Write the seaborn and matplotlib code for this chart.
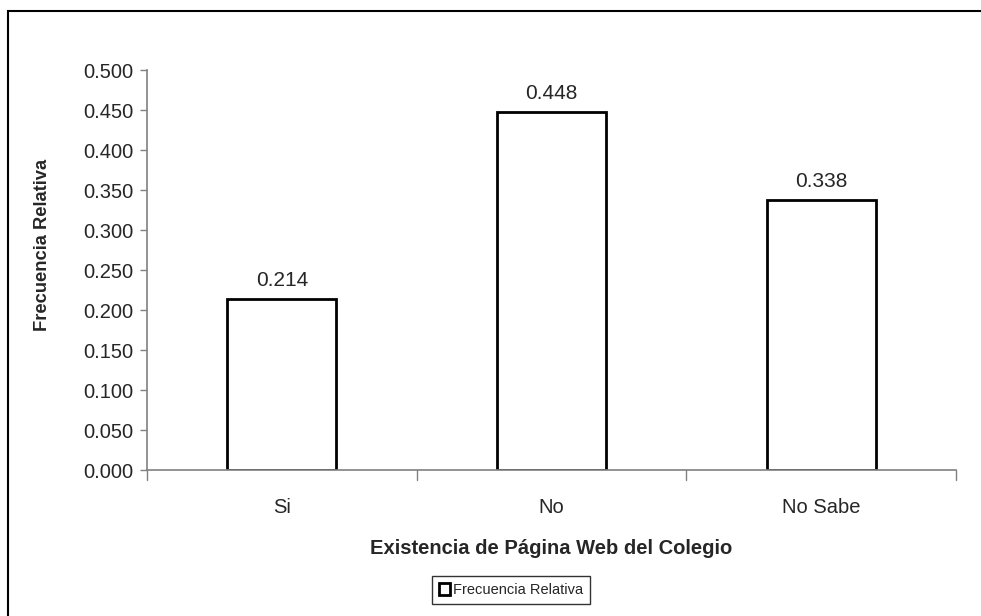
import matplotlib
matplotlib.use("Agg")
import matplotlib.pyplot as plt
import seaborn as sns
import pandas as pd
from matplotlib.patches import Rectangle

categories = ["Si", "No", "No Sabe"]
values = [0.214, 0.448, 0.338]
yticks = [0.0, 0.05, 0.10, 0.15, 0.20, 0.25, 0.30, 0.35, 0.40, 0.45, 0.50]

sns.set_theme(style="white")
plt.rcParams['font.family'] = ['Liberation Sans', 'DejaVu Sans']

df = pd.DataFrame({"cat": categories, "val": values})

fig = plt.figure(figsize=(9.81, 6.16), dpi=100)
ax = fig.add_axes([147/981, 1-470/616, (956-147)/981, (470-70)/616])

sns.barplot(data=df, x="cat", y="val", ax=ax, color="white", edgecolor="black",
            linewidth=2, width=0.405, saturation=1)

ax.set_xlim(-0.5, 2.5)
ax.set_ylim(0, 0.5)
ax.set_yticks(yticks)
ax.set_yticklabels([f"{t:.3f}" for t in yticks], fontsize=14.5)
ax.set_xticks([0, 1, 2])
ax.set_xticklabels(categories, fontsize=14.5)
ax.tick_params(axis='x', length=0, pad=20)
ax.tick_params(axis='y', length=5, width=1, color="#808080", direction='out', pad=5, left=True)
for xb in [-0.5, 0.5, 1.5, 2.5]:
    ax.plot([xb, xb], [0, -0.012], color="#808080", lw=1, clip_on=False)

for s in ["top", "right"]:
    ax.spines[s].set_visible(False)
for s in ["left", "bottom"]:
    ax.spines[s].set_color("#808080")
    ax.spines[s].set_linewidth(1.2)

ax.set_xlabel("Existencia de Página Web del Colegio", fontsize=14.5, fontweight="bold", labelpad=16)
ax.set_ylabel("Frecuencia Relativa", fontsize=13.2, fontweight="bold")
ax.yaxis.set_label_coords(-(147-51)/809, (470-245)/400)

for c in ax.containers:
    ax.bar_label(c, labels=[f"{v:.3f}" for v in values], padding=6, fontsize=15)

h = Rectangle((0, 0), 1, 1, facecolor="white", edgecolor="black", linewidth=2)
leg = fig.legend([h], ["Frecuencia Relativa"], loc="center", bbox_to_anchor=(511/981, 1-590/616),
                 fontsize=10.5, frameon=True, fancybox=False, edgecolor="black",
                 handlelength=0.8, handleheight=0.8, handletextpad=0.2, borderpad=0.45,
                 borderaxespad=0)
leg.get_frame().set_linewidth(1)

fig.patches.append(Rectangle((8/981, -0.05), 1.1, 1-11/616 + 0.05, transform=fig.transFigure,
                             fill=False, edgecolor="black", linewidth=1.5))

fig.savefig("out.png", dpi=100)
